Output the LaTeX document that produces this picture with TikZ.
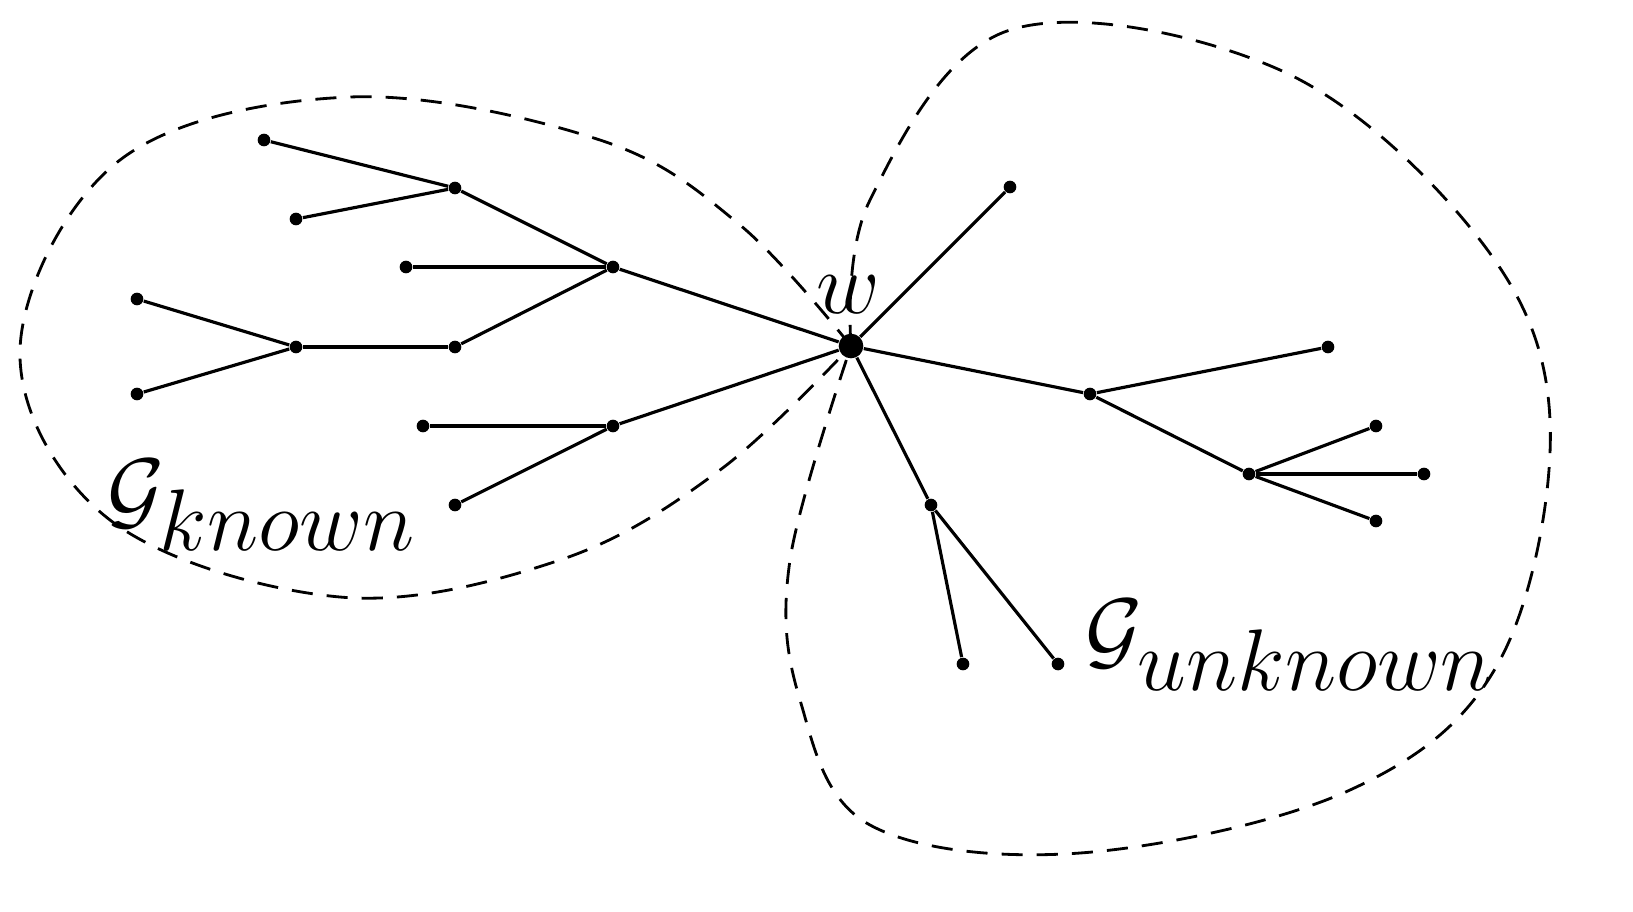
\documentclass[tikz,border=0pt]{standalone}
\begin{document}
\begin{tikzpicture}[x=0.01cm,y=-0.01cm,
  v/.style={circle,fill,inner sep=0pt,minimum size=3.6pt},
  e/.style={line width=0.9pt},
  blob/.style={line width=0.8pt,dash pattern=on 6pt off 4pt}]
\useasboundingbox (0,0) rectangle (1633,911);
\node[circle,fill,inner sep=0pt,minimum size=7pt] (w) at (851,346) {};
\foreach \n/\x/\y in {a1/264/140,a2/455/188,a3/296/219,a4/613/267,a5/406/267,a6/137/299,a7/296/347,a8/455/347,a9/137/394,a10/423/426,a11/613/426,a12/455/505,b1/1010/187,b2/1090/394,b3/1328/347,b4/1249/474,b5/1376/426,b6/1424/474,b7/1376/521,b8/931/505,b9/963/664,b10/1058/664}
  \node[v] (\n) at (\x,\y) {};
\foreach \p/\q in {a1/a2,a3/a2,a2/a4,a5/a4,a4/w,a6/a7,a9/a7,a7/a8,a8/a4,a10/a11,a11/w,a12/a11,b1/w,b2/w,b3/b2,b4/b2,b5/b4,b6/b4,b7/b4,b8/w,b9/b8,b10/b8}
  \draw[e] (\p) -- (\q);
\draw[blob] plot[smooth,tension=0.6] coordinates {(851,346) (740,225) (600,140) (350,97) (120,160) (20,350) (110,520) (340,597) (560,560) (720,470) (851,346)};
\draw[blob] plot[smooth,tension=0.6] coordinates {(851,346) (870,200) (1010,30) (1280,70) (1480,240) (1550,420) (1500,660) (1350,790) (1080,853) (870,825) (800,700) (790,560) (851,346)};
\node[font=\fontsize{30}{36}\selectfont] (lw) at (848,295) {$w$};
\node[font=\fontsize{26}{32}\selectfont] (lk) at (262,505) {$\mathcal{G}_{\textstyle known}$};
\node[font=\fontsize{26}{32}\selectfont] (lu) at (1290,645) {$\mathcal{G}_{\textstyle unknown}$};
\end{tikzpicture}
\end{document}
